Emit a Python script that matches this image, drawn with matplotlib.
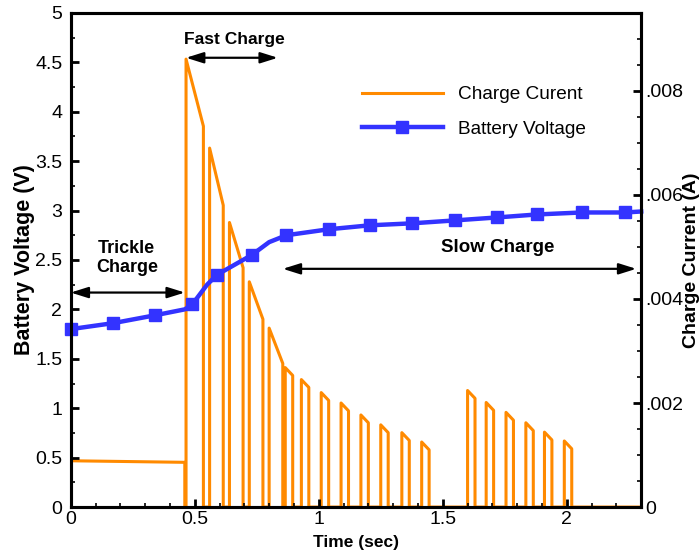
import matplotlib
matplotlib.use('Agg')
from matplotlib import pyplot as plt
from matplotlib.ticker import MultipleLocator, FuncFormatter

# trickle phase (time in s, current in A)
trickle_t = [0.0, 0.46]
trickle_i = [0.00089, 0.00086]

# fast charge pulses
fast_on_t = [0.465, 0.56, 0.64, 0.72, 0.80, 0.865]
fast_off_t = [0.535, 0.615, 0.695, 0.775, 0.855, 0.895]
fast_on_i = [0.00861, 0.00690, 0.00547, 0.00433, 0.00344, 0.00268]
fast_off_i = [0.00732, 0.00580, 0.00460, 0.00361, 0.00276, 0.00253]

# slow charge pulses
slow_on_t = [0.93, 1.01, 1.09, 1.17, 1.25, 1.335, 1.415,
             1.60, 1.675, 1.755, 1.835, 1.91, 1.99]
slow_off_t = [0.96, 1.04, 1.12, 1.20, 1.28, 1.365, 1.445,
              1.63, 1.705, 1.785, 1.865, 1.94, 2.02]
slow_on_i = [0.00245, 0.00220, 0.00200, 0.00177, 0.00158, 0.00143, 0.00125,
             0.00224, 0.00201, 0.00182, 0.00162, 0.00144, 0.00127]
slow_off_i = [0.00230, 0.00205, 0.00185, 0.00162, 0.00143, 0.00128, 0.00110,
              0.00209, 0.00186, 0.00167, 0.00147, 0.00129, 0.00112]
t_end = 2.3

# battery voltage
volt_t = [0.0, 0.17, 0.34, 0.46, 0.49, 0.55, 0.59, 0.73, 0.80, 0.87,
          1.04, 1.205, 1.375, 1.55, 1.72, 1.88, 2.06, 2.235, 2.3]
volt_v = [1.80, 1.86, 1.94, 2.00, 2.05, 2.25, 2.35, 2.55, 2.68, 2.75,
          2.81, 2.85, 2.87, 2.90, 2.93, 2.96, 2.98, 2.98, 2.99]
volt_marks = [0, 1, 2, 4, 6, 7, 9, 10, 11, 12, 13, 14, 15, 16, 17]

ORANGE = '#ff8a00'
BLUE = '#3333ff'
plt.rcParams['font.family'] = ['Liberation Sans', 'DejaVu Sans']


def build_current():
    t = [trickle_t[0], trickle_t[0], trickle_t[1], trickle_t[1]]
    i = [0.0, trickle_i[0], trickle_i[1], 0.0]
    pulses = list(zip(fast_on_t, fast_off_t, fast_on_i, fast_off_i)) + \
        list(zip(slow_on_t, slow_off_t, slow_on_i, slow_off_i))
    for on, off, i_on, i_off in pulses:
        t += [on, on, off, off]
        i += [0.0, i_on, i_off, 0.0]
    t.append(t_end)
    i.append(0.0)
    return t, i


fig = plt.figure(figsize=(7, 5.56), dpi=100)
ax = fig.add_axes([0.101, 0.088, 0.815, 0.889])
ax2 = ax.twinx()

cur_t, cur_i = build_current()
l1, = ax2.plot(cur_t, cur_i, color=ORANGE, lw=2.2, label='Charge Curent')
l2, = ax.plot(volt_t, volt_v, color=BLUE, lw=3.2, marker='s', ms=9,
              markevery=volt_marks, label='Battery Voltage', clip_on=False)
ax.set_zorder(ax2.get_zorder() + 1)
ax.patch.set_visible(False)

ax.set_xlim(0, 2.3)
ax.set_ylim(0, 5)
ax2.set_ylim(0, 0.0095)

ax.set_xticks([0, 0.5, 1, 1.5, 2])
ax.xaxis.set_minor_locator(MultipleLocator(0.1))
ax.set_yticks([0, 0.5, 1, 1.5, 2, 2.5, 3, 3.5, 4, 4.5, 5])
ax.yaxis.set_minor_locator(MultipleLocator(0.25))
ax2.set_yticks([0, 0.002, 0.004, 0.006, 0.008])
ax2.yaxis.set_minor_locator(MultipleLocator(0.0005))

ax.xaxis.set_major_formatter(FuncFormatter(lambda v, p: '%g' % v))
ax.yaxis.set_major_formatter(FuncFormatter(lambda v, p: '%g' % v))
ax2.yaxis.set_major_formatter(
    FuncFormatter(lambda v, p: '0' if v == 0 else ('%.3f' % v).lstrip('0')))

for a in (ax, ax2):
    for s in a.spines.values():
        s.set_linewidth(2.2)
    a.tick_params(which='major', direction='in', length=6, width=2, labelsize=14)
    a.tick_params(which='minor', direction='in', length=3, width=1.2)
ax.tick_params(axis='x', which='major', pad=3)
ax.tick_params(axis='y', which='major', pad=6)
ax2.tick_params(axis='y', which='major', pad=3)

ax.set_xlabel('Time (sec)', fontsize=12.5, fontweight='bold', labelpad=5)
ax.set_ylabel('Battery Voltage (V)', fontsize=15.5, fontweight='bold', labelpad=0)
ax2.set_ylabel('Charge Current (A)', fontsize=14, fontweight='bold', labelpad=0)

arrow = dict(arrowstyle='<|-|>,head_length=0.7,head_width=0.22',
             color='black', lw=1.6, mutation_scale=15, shrinkA=0, shrinkB=0)
ax.annotate('', xy=(0.0, 2.17), xytext=(0.46, 2.17), arrowprops=arrow)
ax.annotate('', xy=(0.465, 4.545), xytext=(0.835, 4.545), arrowprops=arrow)
ax.annotate('', xy=(0.855, 2.41), xytext=(2.28, 2.41), arrowprops=arrow)

ax.text(0.66, 4.73, 'Fast Charge', fontsize=12.5,
        fontweight='bold', ha='center', va='center')
ax.text(0.226, 2.52, 'Trickle\nCharge', fontsize=13,
        fontweight='bold', ha='center', va='center', linespacing=1.2)
ax.text(1.72, 2.63, 'Slow Charge', fontsize=13.5,
        fontweight='bold', ha='center', va='center')

ax.legend(handles=[l1, l2], loc='upper left', bbox_to_anchor=(0.517, 0.845),
          bbox_transform=fig.transFigure, frameon=False, borderpad=0,
          borderaxespad=0, handlelength=4.25, handletextpad=0.8,
          labelspacing=0.9, prop={'size': 13.7})

fig.savefig('out.png', dpi=100)
